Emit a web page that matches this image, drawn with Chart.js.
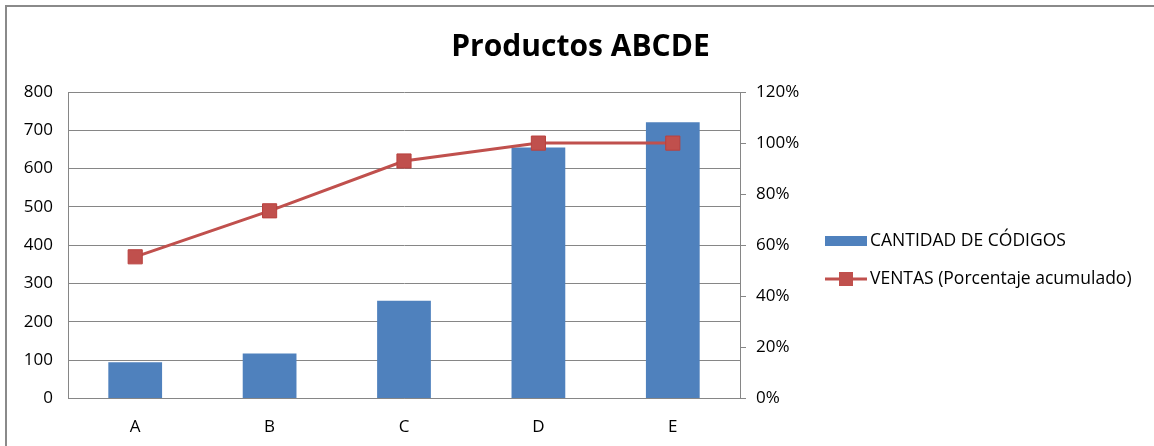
<!DOCTYPE html>
<html>
<head>
<meta charset="utf-8">
<script src="https://cdn.jsdelivr.net/npm/chart.js@4.4.0/dist/chart.umd.min.js"></script>
<style>
    html, body { margin: 0; padding: 0; background: #fff; overflow: hidden; }
    #frame {
        position: absolute; left: 5px; top: 5px; width: 1149px; height: 441px;
        border-top: 2px solid #8a8a8a; border-left: 2px solid #8a8a8a;
        box-sizing: border-box;
    }
    #wrap { position: absolute; left: 0; top: 0; width: 1147px; height: 448px; }
</style>
</head>
<body>
<div id="frame"><div id="wrap"><canvas id="chart"></canvas></div></div>
<script>
// Datos
const categorias = ["A", "B", "C", "D", "E"];
const cantidadCodigos = [95, 118, 255, 655, 721];
const ventasAcumuladas = [0.555, 0.735, 0.93, 1.0, 1.0];
const etiquetaBarras = "CANTIDAD DE CÓDIGOS";
const etiquetaLinea = "VENTAS (Porcentaje acumulado)";
const titulo = "Productos ABCDE";

const colorBarra = "#4F81BD";
const colorLinea = "#C0504D";
const colorEje = "#868686";
const fuente = "'Open Sans', 'Liberation Sans', sans-serif";

// Leyenda dibujada a mano (caja + línea con marcador), como en Excel
const leyendaExcel = {
    id: "leyendaExcel",
    afterDraw(chart) {
        const ctx = chart.ctx;
        const x0 = 818, ancho = 42;
        const barras = chart.data.datasets.find(d => d.type === "bar");
        const linea = chart.data.datasets.find(d => d.type === "line");
        ctx.save();
        ctx.font = "17.5px " + fuente;
        ctx.textBaseline = "middle";

        // barras
        let y = 234;
        ctx.fillStyle = colorBarra;
        ctx.fillRect(x0, y - 5, ancho, 10);
        ctx.fillStyle = "#000";
        ctx.fillText(barras.label, x0 + ancho + 3, y);

        // línea
        y = 272;
        ctx.strokeStyle = colorLinea;
        ctx.lineWidth = 3;
        ctx.beginPath();
        ctx.moveTo(x0, y);
        ctx.lineTo(x0 + ancho, y);
        ctx.stroke();
        ctx.fillStyle = colorLinea;
        ctx.fillRect(x0 + ancho / 2 - 7, y - 7, 14, 14);
        ctx.fillStyle = "#000";
        ctx.fillText(linea.label, x0 + ancho + 3, y);
        ctx.restore();
    }
};

const ctx = document.getElementById("chart").getContext("2d");
new Chart(ctx, {
    data: {
        labels: categorias,
        datasets: [
            {
                type: "line",
                label: etiquetaLinea,
                data: ventasAcumuladas,
                yAxisID: "y1",
                borderColor: colorLinea,
                backgroundColor: colorLinea,
                borderWidth: 3,
                pointStyle: "rect",
                pointRadius: 10,
                pointBorderWidth: 1,
                pointBorderColor: "#B9413E",
                pointBackgroundColor: colorLinea,
                order: 0
            },
            {
                type: "bar",
                label: etiquetaBarras,
                data: cantidadCodigos,
                yAxisID: "y",
                backgroundColor: colorBarra,
                barPercentage: 0.4,
                categoryPercentage: 1,
                order: 1
            }
        ]
    },
    options: {
        responsive: true,
        maintainAspectRatio: false,
        animation: false,
        layout: { padding: { left: 0, right: 0, top: 0, bottom: 0 } },
        plugins: {
            legend: { display: false },
            tooltip: { enabled: false },
            title: {
                display: true,
                text: titulo,
                color: "#000",
                font: { family: fuente, size: 30, weight: "bold" },
                padding: { top: 22, bottom: 27 }
            }
        },
        scales: {
            x: {
                offset: true,
                grid: { display: false, drawTicks: false },
                border: { color: colorEje, width: 1 },
                ticks: { color: "#000", padding: 18, font: { family: fuente, size: 17 } }
            },
            y: {
                position: "left",
                min: 0, max: 800,
                ticks: { stepSize: 100, color: "#000", padding: 15, font: { family: fuente, size: 17 } },
                grid: { color: colorEje, drawTicks: false },
                border: { color: colorEje, width: 1 },
                afterFit(scale) { scale.width = 61; }
            },
            y1: {
                position: "right",
                min: 0, max: 1.2,
                ticks: {
                    stepSize: 0.2, color: "#000", padding: 10,
                    font: { family: fuente, size: 17 },
                    callback: (v) => Math.round(v * 100) + "%"
                },
                grid: { drawOnChartArea: false, drawTicks: true, tickLength: 6, color: colorEje },
                border: { color: colorEje, width: 1 },
                afterFit(scale) { scale.width = 414; }
            }
        }
    },
    plugins: [leyendaExcel]
});
</script>
</body>
</html>
